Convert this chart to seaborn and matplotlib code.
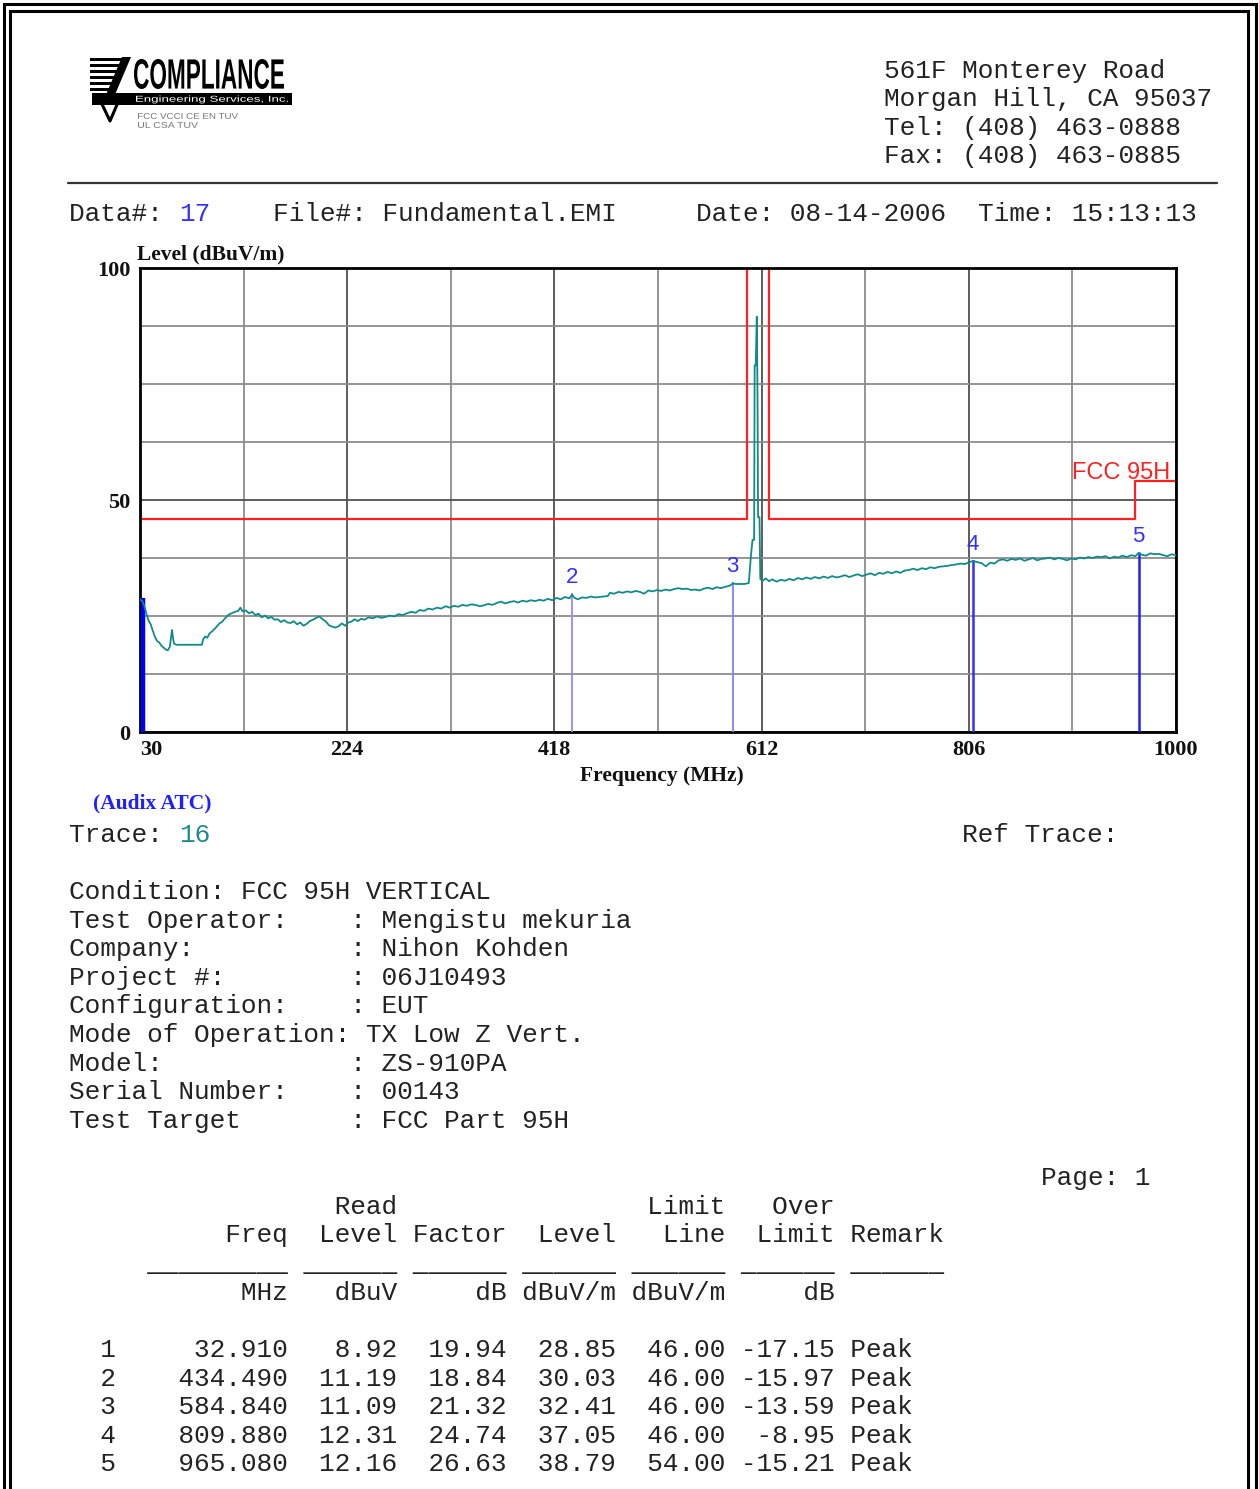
import matplotlib
matplotlib.use("Agg")
import matplotlib.pyplot as plt
import seaborn as sns
import pandas as pd
import numpy as np
from matplotlib.patches import Rectangle, Polygon, PathPatch
from matplotlib.lines import Line2D
from matplotlib.textpath import TextPath
from matplotlib.font_manager import FontProperties
from matplotlib.transforms import Affine2D

# ---- data ----
trace_freq = [
    30, 32, 34, 36, 38, 40, 42, 44, 46, 48, 50, 52, 54, 56, 58, 59, 60, 61, 62, 64,
    70, 76, 82, 88, 89, 91, 93, 95, 98, 101, 104, 107, 110, 113, 116, 119, 122, 124,
    126, 129, 132, 135, 138, 141, 144, 147, 150, 153, 156, 159, 162, 165, 168, 171,
    174, 177, 180, 183, 186, 189, 192, 195, 198, 201, 204, 207, 210, 213, 216, 219,
    222, 225, 228, 231, 234, 237, 240, 244, 248, 252, 256, 260, 264, 268, 272, 276,
    280, 284, 288, 292, 296, 300, 304, 308, 312, 316, 320, 324, 328, 332, 336, 340,
    344, 348, 352, 356, 360, 364, 368, 372, 376, 380, 384, 388, 392, 396, 400, 404,
    408, 412, 416, 420, 424, 428, 432, 434.5, 437, 440, 444, 448, 452, 456, 460, 464,
    468, 470, 474, 478, 482, 486, 490, 494, 498, 502, 506, 510, 514, 518, 522, 526,
    530, 534, 538, 542, 546, 550, 554, 558, 562, 566, 570, 574, 578, 582, 585, 588,
    592, 596, 600, 602, 603.5, 605, 605.5, 606.5, 607.5, 608.2, 608.7, 610, 610.8,
    613, 616, 619, 622, 626, 630, 634, 638, 642, 646, 650, 654, 658, 662, 666, 670,
    674, 678, 682, 686, 690, 694, 698, 702, 706, 710, 714, 718, 722, 726, 730, 734,
    738, 742, 746, 750, 754, 758, 762, 766, 770, 774, 778, 782, 786, 790, 794, 798,
    802, 806, 810, 814, 818, 822, 826, 830, 834, 838, 842, 846, 850, 854, 858, 862,
    866, 870, 874, 878, 882, 886, 890, 894, 898, 902, 906, 910, 914, 918, 922, 926,
    930, 934, 938, 942, 946, 950, 954, 958, 962, 965, 968, 972, 976, 980, 984, 988,
    992, 996, 1000,
]
trace_level = [
    28.6, 28.2, 27.2, 25.5, 24.0, 23.2, 21.8, 20.5, 19.6, 19.3, 18.6, 18.2, 17.8, 17.6,
    18.4, 20.3, 22.0, 20.1, 19.0, 18.8, 18.8, 18.8, 18.8, 18.8, 19.9, 20.6, 20.3, 21.2,
    21.8, 22.5, 23.3, 23.8, 24.6, 25.3, 25.6, 25.9, 26.1, 26.8, 26.0, 26.2, 25.6, 25.9,
    25.2, 25.5, 24.7, 25.1, 24.5, 24.8, 24.2, 24.3, 23.7, 24.1, 23.6, 23.5, 23.9, 23.2,
    23.6, 22.9, 23.3, 23.9, 24.2, 24.6, 24.9, 24.3, 23.8, 23.0, 22.7, 22.5, 22.8, 23.4,
    22.9, 23.6, 23.8, 24.3, 23.9, 24.4, 24.2, 24.7, 24.5, 24.9, 24.6, 24.8, 25.1, 24.9,
    25.4, 25.2, 25.6, 25.9, 25.7, 26.3, 26.1, 26.6, 26.4, 26.8, 26.6, 27.1, 26.8, 27.2,
    27.0, 27.4, 27.2, 27.5, 27.4, 27.1, 27.3, 27.6, 27.4, 27.8, 28.1, 27.7, 28.0, 28.2,
    27.9, 28.3, 28.1, 28.4, 28.2, 28.5, 28.3, 28.7, 28.4, 28.9, 28.6, 29.1, 28.8, 29.6,
    28.9, 28.6, 29.0, 28.9, 29.2, 29.0, 29.1, 29.2, 29.3, 30.0, 29.8, 30.2, 30.0, 30.3,
    30.1, 30.4, 30.2, 29.8, 30.5, 30.3, 30.6, 30.4, 30.7, 30.5, 30.8, 31.0, 30.8, 30.9,
    30.6, 30.7, 30.5, 30.9, 31.1, 30.8, 31.2, 31.0, 31.3, 31.5, 32.0, 31.9, 31.9, 31.9,
    32.1, 38.0, 41.4, 41.4, 79.0, 79.0, 89.5, 72.0, 46.3, 46.3, 33.0, 32.6, 33.1, 32.5,
    32.9, 32.4, 32.8, 32.6, 33.0, 32.7, 33.2, 32.9, 33.3, 33.0, 33.4, 33.1, 33.5, 33.2,
    33.6, 33.3, 33.5, 33.8, 33.4, 33.7, 34.0, 33.6, 33.9, 34.2, 33.8, 34.3, 34.1, 34.5,
    34.2, 34.6, 34.3, 34.8, 34.9, 35.2, 34.9, 35.3, 35.1, 35.5, 35.3, 35.6, 35.7, 35.8,
    36.0, 36.1, 36.3, 36.2, 36.5, 36.9, 36.6, 36.4, 35.7, 36.5, 36.3, 37.0, 37.2, 36.9,
    37.3, 37.1, 37.4, 36.9, 37.2, 37.5, 37.0, 37.3, 37.4, 37.6, 37.2, 37.5, 37.3, 37.0,
    37.4, 37.2, 37.6, 37.4, 37.7, 37.5, 37.8, 37.7, 37.9, 37.4, 37.8, 37.6, 38.0, 37.7,
    38.1, 37.9, 38.6, 38.2, 38.0, 38.5, 38.3, 38.4, 38.1, 37.9, 38.3, 38.1,
]

limit_freq = [30, 598, 598, 619, 619, 962, 962, 1000]
limit_level = [46, 46, 110, 110, 46, 46, 54, 54]

marker_no = [1, 2, 3, 4, 5]
marker_freq = [32.910, 434.490, 584.840, 809.880, 965.080]
read_level = [8.92, 11.19, 11.09, 12.31, 12.16]
factor = [19.94, 18.84, 21.32, 24.74, 26.63]
marker_level = [28.85, 30.03, 32.41, 37.05, 38.79]
limit_line = [46.00, 46.00, 46.00, 46.00, 54.00]
over_limit = [-17.15, -15.97, -13.59, -8.95, -15.21]
remark = ["Peak", "Peak", "Peak", "Peak", "Peak"]

x_ticks = [30, 224, 418, 612, 806, 1000]
x_minor = [127, 321, 515, 709, 903]
y_ticks = [0, 50, 100]
y_minor = [12.5, 25, 37.5, 62.5, 75, 87.5]

conditions = [
    "Condition: FCC 95H VERTICAL",
    "Test Operator:    : Mengistu mekuria",
    "Company:          : Nihon Kohden",
    "Project #:        : 06J10493",
    "Configuration:    : EUT",
    "Mode of Operation: TX Low Z Vert.",
    "Model:            : ZS-910PA",
    "Serial Number:    : 00143",
    "Test Target       : FCC Part 95H",
]
address = ["561F Monterey Road", "Morgan Hill, CA 95037",
           "Tel: (408) 463-0888", "Fax: (408) 463-0885"]

sns.set_theme(style="white")
plt.rcParams["font.family"] = ["Liberation Mono", "DejaVu Sans"]

W, H = 1259, 1489
fig = plt.figure(figsize=(W / 100, H / 100), dpi=100)
fig.patch.set_facecolor("white")


def fx(x):
    return x / W


def fy(y):
    return 1 - y / H


CW = 15.67
X0 = 69
MONO = 18.8
INK = "#222222"


def mono(col, y, s, color=INK):
    fig.text(fx(X0 + col * CW), fy(y), s, family="Liberation Mono", size=MONO,
             color=color, ha="left", va="baseline")


# page frame (double line)
for off, lw in [(4, 2.2), (10.5, 2.2)]:
    fig.add_artist(Rectangle((fx(off), fy(1520)), fx(W - 2 * off + 0.5 - (1 if off > 5 else 0)),
                             (1520 - off) / H, transform=fig.transFigure,
                             fill=False, ec="black", lw=lw))

# ---- logo ----
lax = fig.add_axes([fx(85), fy(135), 215 / W, 85 / H])
lax.set_xlim(85, 300)
lax.set_ylim(135, 50)
lax.axis("off")


def fit_text(ax, s, x0, x1, ybase, ytop, color, weight="bold", family="Liberation Sans"):
    tp = TextPath((0, 0), s, size=10, prop=FontProperties(family=family, weight=weight))
    ext = tp.get_extents()
    sx = (x1 - x0) / ext.width
    sy = (ybase - ytop) / ext.height
    tr = Affine2D().translate(-ext.x0, -ext.y0).scale(sx, -sy).translate(x0, ybase)
    ax.add_patch(PathPatch(tr.transform_path(tp), fc=color, ec="none"))


for i, yy in enumerate([58, 64, 70, 76, 82, 88]):
    lax.add_patch(Rectangle((90, yy), 38 - i * 3, 3.2, fc="black", ec="none"))
lax.add_patch(Polygon([(122, 57), (131, 57), (111, 104), (102, 104)], fc="black", ec="none"))
lax.add_patch(Rectangle((92, 93), 200, 12, fc="black", ec="none"))
lax.plot([100, 110, 119], [100, 121, 100], color="black", lw=2.2)
fit_text(lax, "COMPLIANCE", 134, 284, 89, 59, "black")
fit_text(lax, "Engineering Services, Inc.", 136, 288, 103.5, 95.5, "white", weight="normal")
fit_text(lax, "FCC VCCI CE EN TUV", 138, 238, 119, 113, "#777777", weight="normal")
fit_text(lax, "UL CSA TUV", 138, 198, 128, 122, "#777777", weight="normal")

# ---- header text ----
for i, line in enumerate(address):
    mono(52, 78 + i * 28.3, line)

fig.add_artist(Line2D([fx(68), fx(1217)], [fy(183), fy(183)], transform=fig.transFigure,
                      color="#333333", lw=1.6))

mono(0, 221, "Data#: ")
mono(7, 221, "17", color="#3030ff")
mono(13, 221, "File#: Fundamental.EMI")
mono(40, 221, "Date: 08-14-2006")
mono(58, 221, "Time: 15:13:13")

# ---- chart ----
ax = fig.add_axes([fx(140), fy(732), (1176 - 140) / W, (732 - 268) / H])
trace = pd.DataFrame({"freq": trace_freq, "level": trace_level})
limit = pd.DataFrame({"freq": limit_freq, "level": limit_level})

ax.set_xticks(x_ticks)
ax.set_xticks(x_minor, minor=True)
ax.set_yticks(y_ticks)
ax.set_yticks(y_minor, minor=True)
ax.grid(True, which="major", color="#505050", lw=1.3)
ax.grid(True, which="minor", color="#8c8c8c", lw=1.3)
ax.set_axisbelow(True)

sns.lineplot(data=limit, x="freq", y="level", sort=False, estimator=None,
             color="#ff2020", lw=1.6, ax=ax)

marker_colors = ["#0000ff", "#8c8cff", "#8080ff", "#3030ff", "#2020ff"]
marker_widths = [3.2, 1.3, 1.3, 1.8, 1.8]
ax.vlines(marker_freq, 0, marker_level, colors=marker_colors, lw=marker_widths, zorder=3)

sns.lineplot(data=trace, x="freq", y="level", sort=False, estimator=None,
             color="#128a8a", lw=1.3, ax=ax, zorder=4)

for n, f, lv in zip(marker_no, marker_freq, marker_level):
    if n == 1:
        continue
    ax.text(f, lv + 1.0, str(n), color="#3030ff", family="Liberation Sans", size=16,
            ha="center", va="bottom")

ax.text(995, 53.5, "FCC 95H", color="#ff2020", family="Liberation Sans", size=17,
        ha="right", va="bottom")

ax.set_xlim(30, 1000)
ax.set_ylim(0, 100)
ax.set_xlabel("")
ax.set_ylabel("")
for sp in ax.spines.values():
    sp.set_color("black")
    sp.set_linewidth(2.0)
ax.tick_params(which="both", length=0)
ax.tick_params(axis="x", pad=6)
ax.tick_params(axis="y", pad=7)
for lab in ax.get_xticklabels() + ax.get_yticklabels():
    lab.set_family("Liberation Serif")
    lab.set_fontweight("bold")
    lab.set_fontsize(16)
    lab.set_color("#111111")
ax.get_xticklabels()[0].set_ha("left")

fig.text(fx(137), fy(254), "Level (dBuV/m)", family="Liberation Serif", weight="bold",
         size=15.5, ha="left", va="center", color="#111111")
fig.text(fx(662), fy(776), "Frequency (MHz)", family="Liberation Serif", weight="bold",
         size=15.5, ha="center", va="center", color="#111111")
fig.text(fx(93), fy(803), "(Audix ATC)", family="Liberation Serif", weight="bold",
         size=15.5, ha="left", va="center", color="#2020ff")

# ---- lower text block ----
ROW = 28.62
B0 = 899


def row_y(k):
    return B0 + k * ROW


mono(0, row_y(-2), "Trace: ")
mono(7, row_y(-2), "16", color="#1a8a8a")
mono(57, row_y(-2), "Ref Trace:")

for k, line in enumerate(conditions):
    mono(0, row_y(k), line)

mono(62, row_y(10), "Page: 1")

head1 = "".rjust(14) + "Read".rjust(7) + "".rjust(14) + "Limit".rjust(7) + "Over".rjust(7)
head2 = ("Freq".rjust(14) + "Level".rjust(7) + "Factor".rjust(7) + "Level".rjust(7)
         + "Line".rjust(7) + "Limit".rjust(7) + " Remark")
unders = " " * 5 + "_" * 9 + (" " + "_" * 6) * 6
units = ("MHz".rjust(14) + "dBuV".rjust(7) + "dB".rjust(7) + "dBuV/m".rjust(7)
         + "dBuV/m".rjust(7) + "dB".rjust(7))
mono(0, row_y(11), head1)
mono(0, row_y(12), head2)
mono(0, row_y(13), unders)
mono(0, row_y(14), units)

for i in range(len(marker_no)):
    s = (f"  {marker_no[i]}" + f"{marker_freq[i]:.3f}".rjust(11)
         + f"{read_level[i]:.2f}".rjust(7) + f"{factor[i]:.2f}".rjust(7)
         + f"{marker_level[i]:.2f}".rjust(7) + f"{limit_line[i]:.2f}".rjust(7)
         + f"{over_limit[i]:.2f}".rjust(7) + " " + remark[i])
    mono(0, row_y(16 + i), s)

fig.savefig("out.png", dpi=100, facecolor="white")
